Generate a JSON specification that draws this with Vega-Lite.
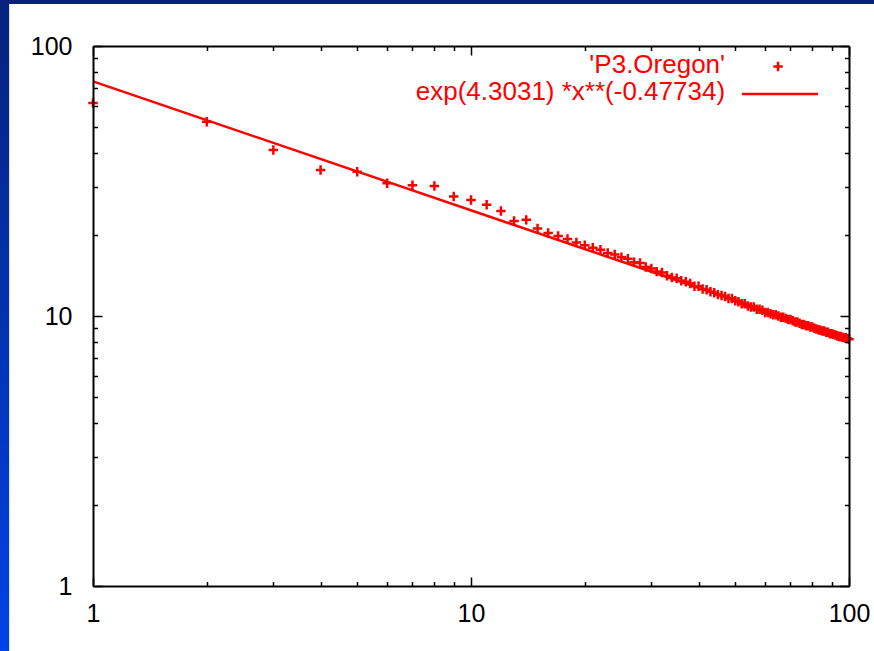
{
  "$schema": "https://vega.github.io/schema/vega-lite/v6.json",
  "width": 756,
  "height": 540,
  "autosize": {"type": "none"},
  "padding": {"left": 93, "top": 46, "right": 25, "bottom": 65},
  "background": "#0a2fb0",
  "datasets": {
    "oregon": [
      {"x": 1, "y": 61.5}, {"x": 2, "y": 52.4}, {"x": 3, "y": 41.2}, {"x": 4, "y": 34.7}, {"x": 5, "y": 34.2},
      {"x": 6, "y": 31.0}, {"x": 7, "y": 30.5}, {"x": 8, "y": 30.3}, {"x": 9, "y": 27.7}, {"x": 10, "y": 26.9},
      {"x": 11, "y": 25.8}, {"x": 12, "y": 24.5}, {"x": 13, "y": 22.5}, {"x": 14, "y": 22.7}, {"x": 15, "y": 21.1},
      {"x": 16, "y": 20.3}, {"x": 17, "y": 19.8}, {"x": 18, "y": 19.3}, {"x": 19, "y": 18.7}, {"x": 20, "y": 18.3},
      {"x": 21, "y": 17.9}, {"x": 22, "y": 17.6}, {"x": 23, "y": 17.1}, {"x": 24, "y": 16.9}, {"x": 25, "y": 16.5},
      {"x": 26, "y": 16.3}, {"x": 27, "y": 15.8}, {"x": 28, "y": 15.7}, {"x": 29, "y": 15.2}, {"x": 30, "y": 15.0},
      {"x": 31, "y": 14.6}, {"x": 32, "y": 14.5}, {"x": 33, "y": 14.1}, {"x": 34, "y": 13.9}, {"x": 35, "y": 13.8},
      {"x": 36, "y": 13.5}, {"x": 37, "y": 13.4}, {"x": 38, "y": 13.2}, {"x": 39, "y": 12.9}, {"x": 40, "y": 12.9},
      {"x": 41, "y": 12.6}, {"x": 42, "y": 12.5}, {"x": 43, "y": 12.3}, {"x": 44, "y": 12.2}, {"x": 45, "y": 12.0},
      {"x": 46, "y": 11.9}, {"x": 47, "y": 11.8}, {"x": 48, "y": 11.6}, {"x": 49, "y": 11.6}, {"x": 50, "y": 11.4},
      {"x": 51, "y": 11.3}, {"x": 52, "y": 11.1}, {"x": 53, "y": 11.1}, {"x": 54, "y": 10.9}, {"x": 55, "y": 10.8},
      {"x": 56, "y": 10.8}, {"x": 57, "y": 10.6}, {"x": 58, "y": 10.6}, {"x": 59, "y": 10.5}, {"x": 60, "y": 10.3},
      {"x": 61, "y": 10.3}, {"x": 62, "y": 10.2}, {"x": 63, "y": 10.1}, {"x": 64, "y": 10.1}, {"x": 65, "y": 10.0},
      {"x": 66, "y": 9.9}, {"x": 67, "y": 9.9}, {"x": 68, "y": 9.8}, {"x": 69, "y": 9.7}, {"x": 70, "y": 9.7},
      {"x": 71, "y": 9.6}, {"x": 72, "y": 9.5}, {"x": 73, "y": 9.5}, {"x": 74, "y": 9.4}, {"x": 75, "y": 9.3},
      {"x": 76, "y": 9.3}, {"x": 77, "y": 9.2}, {"x": 78, "y": 9.2}, {"x": 79, "y": 9.1}, {"x": 80, "y": 9.1},
      {"x": 81, "y": 9.0}, {"x": 82, "y": 8.95}, {"x": 83, "y": 8.9}, {"x": 84, "y": 8.85}, {"x": 85, "y": 8.8},
      {"x": 86, "y": 8.8}, {"x": 87, "y": 8.7}, {"x": 88, "y": 8.7}, {"x": 89, "y": 8.6}, {"x": 90, "y": 8.6},
      {"x": 91, "y": 8.55}, {"x": 92, "y": 8.5}, {"x": 93, "y": 8.45}, {"x": 94, "y": 8.4}, {"x": 95, "y": 8.4},
      {"x": 96, "y": 8.35}, {"x": 97, "y": 8.3}, {"x": 98, "y": 8.3}, {"x": 99, "y": 8.25}, {"x": 100, "y": 8.2}
    ],
    "fit": [
      {"x": 1, "fit": 73.94},
      {"x": 100, "fit": 8.21}
    ]
  },
  "layer": [
    {
      "data": {"values": [{}]},
      "mark": {"type": "rect", "fill": {"gradient": "linear", "x1": 0, "y1": 0, "x2": 0, "y2": 1, "stops": [{"offset": 0, "color": "#05227c"}, {"offset": 1, "color": "#0043e6"}]}},
      "encoding": {
        "x": {"datum": 0.5, "type": "quantitative", "scale": {"type": "log", "domain": [1, 100], "nice": false}, "axis": null},
        "x2": {"datum": 200},
        "y": {"datum": 0.57, "type": "quantitative", "scale": {"type": "log", "domain": [1, 100], "nice": false}, "axis": null},
        "y2": {"datum": 148}
      }
    },
    {
      "data": {"values": [{}]},
      "mark": {"type": "rect", "fill": "#ffffff"},
      "encoding": {
        "x": {"datum": 0.6, "type": "quantitative", "scale": {"type": "log", "domain": [1, 100], "nice": false}, "axis": null},
        "x2": {"datum": 200},
        "y": {"datum": 0.3, "type": "quantitative", "scale": {"type": "log", "domain": [1, 100], "nice": false}, "axis": null},
        "y2": {"datum": 143}
      }
    },
    {
      "data": {"name": "fit"},
      "mark": {"type": "line", "color": "#ff0000", "strokeWidth": 2.5},
      "encoding": {
        "x": {"field": "x", "type": "quantitative", "scale": {"type": "log", "domain": [1, 100], "nice": false},
          "axis": {"orient": "bottom", "zindex": 2, "values": [1,2,3,4,5,6,7,8,9,10,20,30,40,50,60,70,80,90,100],
            "labelExpr": "datum.value == 1 ? '1' : datum.value == 10 ? '10' : datum.value == 100 ? '100' : ''",
            "tickSize": {"condition": {"test": "datum.value == 1 || datum.value == 10 || datum.value == 100", "value": -9}, "value": -4.5},
            "labelPadding": 24}},
        "y": {"field": "fit", "type": "quantitative", "scale": {"type": "log", "domain": [1, 100], "nice": false},
          "axis": {"orient": "left", "zindex": 2, "values": [1,2,3,4,5,6,7,8,9,10,20,30,40,50,60,70,80,90,100],
            "labelExpr": "datum.value == 1 ? '1' : datum.value == 10 ? '10' : datum.value == 100 ? '100' : ''",
            "tickSize": {"condition": {"test": "datum.value == 1 || datum.value == 10 || datum.value == 100", "value": -9}, "value": -4.5},
            "labelPadding": 30}}
      }
    },
    {
      "data": {"name": "oregon"},
      "mark": {"type": "point", "shape": "M-1,0L1,0M0,-1L0,1", "filled": false, "color": "#ff0000", "size": 90, "strokeWidth": 2.5, "opacity": 1},
      "encoding": {
        "x": {"field": "x", "type": "quantitative", "scale": {"type": "log", "domain": [1, 100], "nice": false},
          "axis": {"orient": "top", "zindex": 2, "values": [1,2,3,4,5,6,7,8,9,10,20,30,40,50,60,70,80,90,100], "labels": false,
            "tickSize": {"condition": {"test": "datum.value == 1 || datum.value == 10 || datum.value == 100", "value": -9}, "value": -4.5}}},
        "y": {"field": "y", "type": "quantitative", "scale": {"type": "log", "domain": [1, 100], "nice": false},
          "axis": {"orient": "right", "zindex": 2, "values": [1,2,3,4,5,6,7,8,9,10,20,30,40,50,60,70,80,90,100], "labels": false,
            "tickSize": {"condition": {"test": "datum.value == 1 || datum.value == 10 || datum.value == 100", "value": -9}, "value": -4.5}}}
      }
    },
    {
      "data": {"values": [{"label": "'P3.Oregon'", "lx": 47.0, "ly": 85.3}, {"label": "exp(4.3031) *x**(-0.47734)", "lx": 47.0, "ly": 67.3}]},
      "mark": {"type": "text", "align": "right", "baseline": "middle", "color": "#ff0000", "font": "Liberation Sans, Arial, sans-serif", "fontSize": 26},
      "encoding": {
        "x": {"field": "lx", "type": "quantitative", "scale": {"type": "log", "domain": [1, 100], "nice": false}, "axis": null},
        "y": {"field": "ly", "type": "quantitative", "scale": {"type": "log", "domain": [1, 100], "nice": false}, "axis": null},
        "text": {"field": "label"}
      }
    },
    {
      "data": {"values": [{}]},
      "mark": {"type": "point", "shape": "M-1,0L1,0M0,-1L0,1", "filled": false, "color": "#ff0000", "size": 90, "strokeWidth": 2.5, "opacity": 1},
      "encoding": {
        "x": {"datum": 64.9, "type": "quantitative", "scale": {"type": "log", "domain": [1, 100], "nice": false}, "axis": null},
        "y": {"datum": 84.0, "type": "quantitative", "scale": {"type": "log", "domain": [1, 100], "nice": false}, "axis": null}
      }
    },
    {
      "data": {"values": [{}]},
      "mark": {"type": "rule", "color": "#ff0000", "strokeWidth": 2.5},
      "encoding": {
        "x": {"datum": 52.1, "type": "quantitative", "scale": {"type": "log", "domain": [1, 100], "nice": false}, "axis": null},
        "x2": {"datum": 82.8},
        "y": {"datum": 66.4, "type": "quantitative", "scale": {"type": "log", "domain": [1, 100], "nice": false}, "axis": null}
      }
    }
  ],
  "resolve": {"axis": {"x": "independent", "y": "independent"}},
  "config": {
    "view": {"stroke": null},
    "axis": {
      "title": null,
      "grid": false,
      "domain": true,
      "domainColor": "#000000",
      "domainWidth": 2,
      "tickColor": "#000000",
      "tickWidth": 1.5,
      "labelColor": "#000000",
      "labelFont": "Liberation Sans, Arial, sans-serif",
      "labelFontSize": 25,
      "labelFlush": false,
      "labelOverlap": false
    }
  }
}
